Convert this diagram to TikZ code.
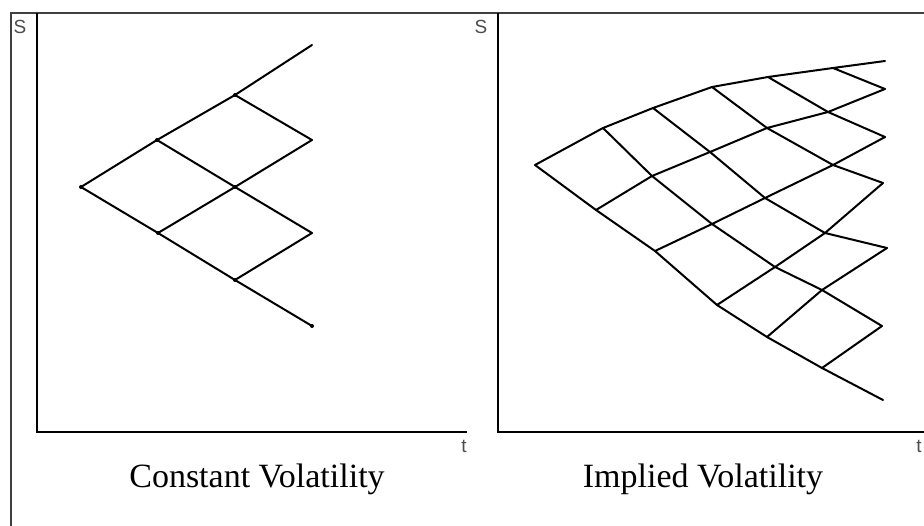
\documentclass[tikz,border=0pt]{standalone}
\usepackage{fontspec}
\setmainfont{Liberation Serif}
\newfontfamily\axisfont{Liberation Sans}

\tikzset{
  axislabel/.style={font=\axisfont\fontsize{19}{19}\selectfont, text=black!70, inner sep=0pt},
  caption/.style={font=\fontsize{34}{40}\selectfont, anchor=base, inner sep=0pt},
  lattice/.style={line width=2pt, line join=round, line cap=round}
}

\begin{document}
\begin{tikzpicture}[x=1pt, y=-1pt]
  \useasboundingbox (0,0) rectangle (924,526);
  \clip (0,0) rectangle (924,526);
  \fill[white] (0,0) rectangle (924,526);
  % frame and axes
  \draw[black!75, line width=1.8pt] (11,526) -- (11,13) -- (924,13);
  \draw[line width=1.6pt] (37,13) -- (37,432) -- (467,432);
  \draw[line width=1.6pt] (498,13) -- (498,432) -- (924,432);
  \node[axislabel] (sL) at (20,27) {S};
  \node[axislabel] (tL) at (464,446) {t};
  \node[axislabel] (sR) at (481,27) {S};
  \node[axislabel] (tR) at (919,446) {t};

  % constant volatility tree
  \coordinate (l-0-0) at (81,187);
  \coordinate (l-1-0) at (157,140);
  \coordinate (l-1-1) at (158,233);
  \coordinate (l-2-0) at (235,95);
  \coordinate (l-2-1) at (235,187);
  \coordinate (l-2-2) at (235,280);
  \coordinate (l-3-0) at (312,45);
  \coordinate (l-3-1) at (312,140);
  \coordinate (l-3-2) at (312,233);
  \coordinate (l-3-3) at (312,326);
  \foreach \i in {0,...,2}{
    \pgfmathtruncatemacro\n{\i+1}
    \foreach \j in {0,...,\i}{
      \pgfmathtruncatemacro\k{\j+1}
      \draw[lattice] (l-\i-\j) -- (l-\n-\j) (l-\i-\j) -- (l-\n-\k);
      \fill (l-\i-\j) circle (2);
    }
  }
  \fill (l-3-3) circle (2);

  % implied volatility tree
  \coordinate (r-0-0) at (535,165);
  \coordinate (r-1-0) at (603,128);
  \coordinate (r-1-1) at (596,210);
  \coordinate (r-2-0) at (653,108);
  \coordinate (r-2-1) at (652,176);
  \coordinate (r-2-2) at (655,251);
  \coordinate (r-3-0) at (712,87);
  \coordinate (r-3-1) at (710,152);
  \coordinate (r-3-2) at (712,224);
  \coordinate (r-3-3) at (717,305);
  \coordinate (r-4-0) at (768,77);
  \coordinate (r-4-1) at (767,128);
  \coordinate (r-4-2) at (765,198);
  \coordinate (r-4-3) at (775,267);
  \coordinate (r-4-4) at (767,337);
  \coordinate (r-5-0) at (833,68);
  \coordinate (r-5-1) at (828,112);
  \coordinate (r-5-2) at (833,165);
  \coordinate (r-5-3) at (825,233);
  \coordinate (r-5-4) at (822,290);
  \coordinate (r-5-5) at (822,368);
  \coordinate (r-6-0) at (885,61);
  \coordinate (r-6-1) at (885,89);
  \coordinate (r-6-2) at (885,137);
  \coordinate (r-6-3) at (883,183);
  \coordinate (r-6-4) at (887,248);
  \coordinate (r-6-5) at (882,326);
  \coordinate (r-6-6) at (883,400);
  \foreach \i in {0,...,5}{
    \pgfmathtruncatemacro\n{\i+1}
    \foreach \j in {0,...,\i}{
      \pgfmathtruncatemacro\k{\j+1}
      \draw[lattice] (r-\i-\j) -- (r-\n-\j) (r-\i-\j) -- (r-\n-\k);
    }
  }

  \node[caption] (capL) at (257,487) {Constant Volatility};
  \node[caption] (capR) at (703,487) {Implied Volatility};
\end{tikzpicture}
\end{document}
